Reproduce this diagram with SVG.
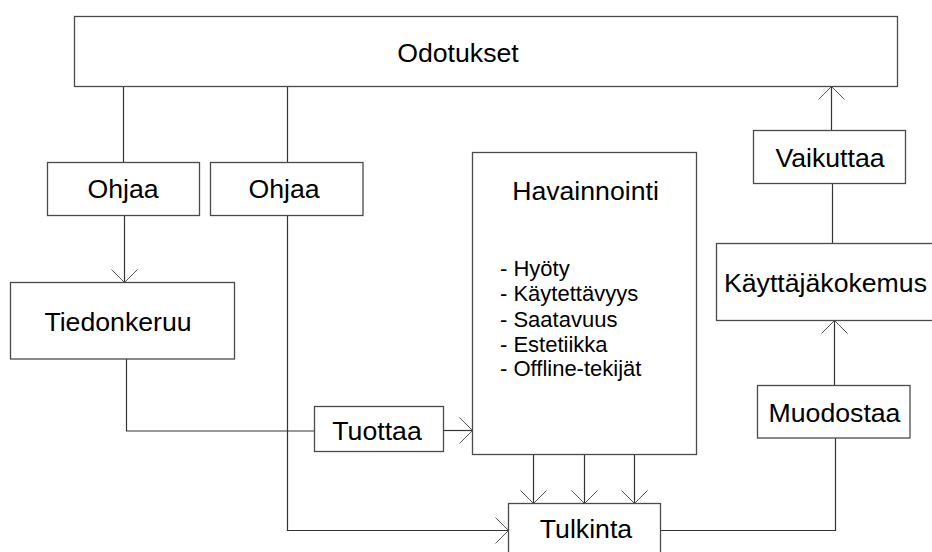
<svg xmlns="http://www.w3.org/2000/svg" width="932" height="552" viewBox="0 0 932 552">
  <style>
    .box { fill: #ffffff; stroke: #4a4a4a; stroke-width: 1.3; }
    .lbl { font-family: "Liberation Sans", Arial, sans-serif; font-size: 26.67px; fill: #000; text-anchor: middle; }
    .item { font-family: "Liberation Sans", Arial, sans-serif; font-size: 22px; fill: #000; }
    .con { fill: none; stroke: #333333; stroke-width: 1.2; }
  </style>
  <defs>
    <marker id="arr" markerUnits="userSpaceOnUse" markerWidth="30" markerHeight="30" refX="15" refY="15" orient="auto" viewBox="0 0 30 30">
      <path d="M2,2 L15,15 L2,28" fill="none" stroke="#555555" stroke-width="1"/>
    </marker>
  </defs>

  <g id="connectors">
    <line class="con" x1="123.5" y1="86.5" x2="123.5" y2="162.5"/>
    <line class="con" x1="287.5" y1="86.5" x2="287.5" y2="162.5"/>
    <line class="con" x1="124.5" y1="215.5" x2="124.5" y2="282.5" marker-end="url(#arr)"/>
    <polyline class="con" points="126.5,359 126.5,431 314.5,431"/>
    <line class="con" x1="443.5" y1="430.5" x2="472.5" y2="430.5" marker-end="url(#arr)"/>
    <polyline class="con" points="287.5,215.5 287.5,530.5 508.5,530.5" marker-end="url(#arr)"/>
    <line class="con" x1="533.5" y1="454.5" x2="533.5" y2="503.5" marker-end="url(#arr)"/>
    <line class="con" x1="584.5" y1="454.5" x2="584.5" y2="503.5" marker-end="url(#arr)"/>
    <line class="con" x1="634.5" y1="454.5" x2="634.5" y2="503.5" marker-end="url(#arr)"/>
    <polyline class="con" points="660.5,530.5 835.5,530.5 835.5,438"/>
    <line class="con" x1="834.5" y1="385.5" x2="834.5" y2="320.5" marker-end="url(#arr)"/>
    <line class="con" x1="832.5" y1="243.5" x2="832.5" y2="183.5"/>
    <line class="con" x1="831.5" y1="130.5" x2="831.5" y2="86.5" marker-end="url(#arr)"/>
  </g>

  <g id="odotukset">
    <rect class="box" x="74.5" y="16.5" width="823" height="70"/>
    <text class="lbl" x="458" y="61.7">Odotukset</text>
  </g>
  <g id="ohjaa1">
    <rect class="box" x="47.5" y="162.5" width="152" height="53"/>
    <text class="lbl" x="123" y="198.3">Ohjaa</text>
  </g>
  <g id="ohjaa2">
    <rect class="box" x="210.5" y="162.5" width="152.5" height="53"/>
    <text class="lbl" x="284" y="198.3">Ohjaa</text>
  </g>
  <g id="tiedonkeruu">
    <rect class="box" x="10.5" y="282.5" width="224" height="76.5"/>
    <text class="lbl" x="118" y="331">Tiedonkeruu</text>
  </g>
  <g id="tuottaa">
    <rect class="box" x="314.5" y="406.5" width="129" height="45"/>
    <text class="lbl" x="377" y="440">Tuottaa</text>
  </g>
  <g id="havainnointi">
    <rect class="box" x="472.5" y="152.5" width="224" height="302"/>
    <text class="lbl" x="585.5" y="200">Havainnointi</text>
    <text class="item" x="500" y="276">- Hyöty</text>
    <text class="item" x="500" y="301">- Käytettävyys</text>
    <text class="item" x="500" y="326.5">- Saatavuus</text>
    <text class="item" x="500" y="351.5">- Estetiikka</text>
    <text class="item" x="500" y="376">- Offline-tekijät</text>
  </g>
  <g id="tulkinta">
    <rect class="box" x="508.5" y="503.5" width="152" height="60"/>
    <text class="lbl" x="586" y="538.3">Tulkinta</text>
  </g>
  <g id="muodostaa">
    <rect class="box" x="757.5" y="385.5" width="152.5" height="52.5"/>
    <text class="lbl" x="834.5" y="421.7">Muodostaa</text>
  </g>
  <g id="kayttajakokemus">
    <rect class="box" x="716.5" y="243.5" width="230" height="77"/>
    <text class="lbl" x="724" y="291.7" style="text-anchor:start">Käyttäjäkokemus</text>
  </g>
  <g id="vaikuttaa">
    <rect class="box" x="753.5" y="130.5" width="152" height="53"/>
    <text class="lbl" x="830" y="166.7">Vaikuttaa</text>
  </g>
</svg>
